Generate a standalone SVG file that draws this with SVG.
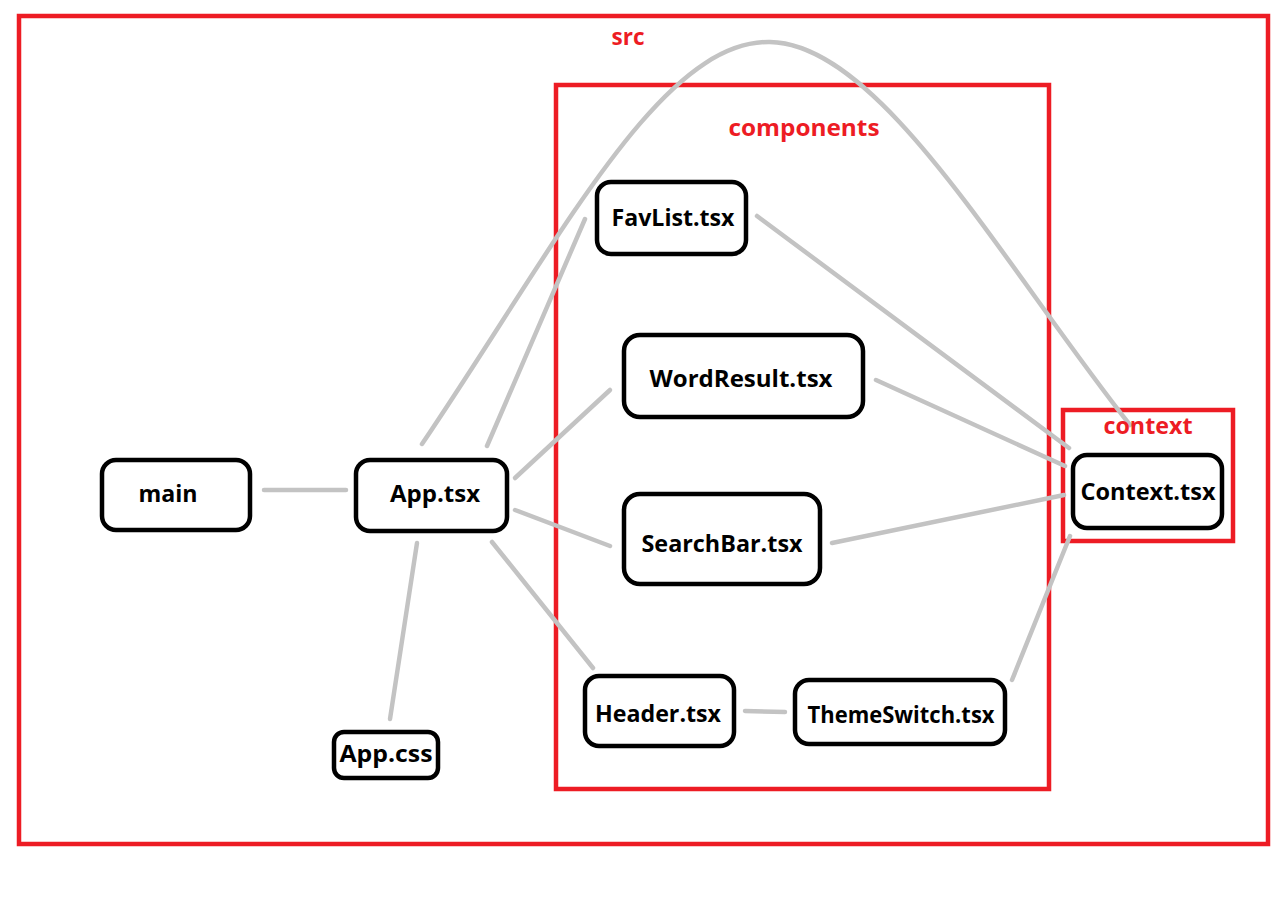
<svg xmlns="http://www.w3.org/2000/svg" width="1287" height="921" viewBox="0 0 1287 921">
<defs>
<style>
.grp{fill:none;stroke:#ED1C24;stroke-width:4.5}
.glabel{fill:#ED1C24;font-family:"Open Sans","Liberation Sans",Arial,sans-serif;font-weight:bold;font-size:24px;text-anchor:middle}
.node rect{fill:#fff;stroke:#000;stroke-width:4.5}
.node text{fill:#000;font-family:"Open Sans","Liberation Sans",Arial,sans-serif;font-weight:bold;font-size:24px;text-anchor:middle}
.edge{fill:none;stroke:#C3C3C3;stroke-width:4.5;stroke-linecap:round}
</style>
</defs>
<rect width="1287" height="921" fill="#fff"/>
<g id="group-src">
<rect class="grp" x="19" y="16" width="1249" height="828"/>
<text class="glabel" x="628" y="45" textLength="33" lengthAdjust="spacingAndGlyphs">src</text>
</g>
<g id="group-components">
<rect class="grp" x="556" y="85" width="493" height="704"/>
<text class="glabel" x="804" y="136" textLength="151" lengthAdjust="spacingAndGlyphs">components</text>
</g>
<g id="group-context">
<rect class="grp" x="1063" y="410" width="170" height="131"/>
</g>
<g id="connectors">
<line class="edge" x1="264" y1="490" x2="346" y2="490"/>
<path class="edge" d="M422,444 C560,240 660,40 770,42 C880,44 1000,260 1130,425"/>
<line class="edge" x1="487" y1="446" x2="585" y2="219"/>
<line class="edge" x1="515" y1="478" x2="610" y2="390"/>
<line class="edge" x1="515" y1="510" x2="610" y2="546"/>
<line class="edge" x1="492" y1="542" x2="593" y2="668"/>
<line class="edge" x1="417" y1="543" x2="390" y2="719"/>
<line class="edge" x1="757" y1="216" x2="1069" y2="448"/>
<line class="edge" x1="876" y1="380" x2="1065" y2="466"/>
<line class="edge" x1="832" y1="543" x2="1064" y2="495"/>
<line class="edge" x1="745" y1="711" x2="785" y2="712"/>
<line class="edge" x1="1012" y1="680" x2="1070" y2="536"/>
</g>
<text class="glabel" x="1148" y="434" textLength="89" lengthAdjust="spacingAndGlyphs">context</text>
<g id="node-main" class="node">
<rect x="102" y="460" width="148" height="70" rx="14"/>
<text x="168" y="502" textLength="59" lengthAdjust="spacingAndGlyphs">main</text>
</g>
<g id="node-app" class="node">
<rect x="356" y="460" width="151" height="71" rx="14"/>
<text x="435" y="502" textLength="90" lengthAdjust="spacingAndGlyphs">App.tsx</text>
</g>
<g id="node-favlist" class="node">
<rect x="597" y="182" width="149" height="72" rx="14"/>
<text x="673" y="226" textLength="123" lengthAdjust="spacingAndGlyphs">FavList.tsx</text>
</g>
<g id="node-wordresult" class="node">
<rect x="624" y="335" width="239" height="82" rx="16"/>
<text x="741" y="387" textLength="183" lengthAdjust="spacingAndGlyphs">WordResult.tsx</text>
</g>
<g id="node-searchbar" class="node">
<rect x="624" y="494" width="196" height="90" rx="16"/>
<text x="722" y="552" textLength="161" lengthAdjust="spacingAndGlyphs">SearchBar.tsx</text>
</g>
<g id="node-header" class="node">
<rect x="585" y="676" width="149" height="70" rx="14"/>
<text x="658" y="722" textLength="126" lengthAdjust="spacingAndGlyphs">Header.tsx</text>
</g>
<g id="node-themeswitch" class="node">
<rect x="795" y="680" width="210" height="64" rx="14"/>
<text x="901" y="723" textLength="187" lengthAdjust="spacingAndGlyphs">ThemeSwitch.tsx</text>
</g>
<g id="node-context" class="node">
<rect x="1073" y="455" width="149" height="73" rx="14"/>
<text x="1148" y="500" textLength="135" lengthAdjust="spacingAndGlyphs">Context.tsx</text>
</g>
<g id="node-appcss" class="node">
<rect x="334" y="732" width="104" height="46" rx="10"/>
<text x="386" y="762" textLength="93" lengthAdjust="spacingAndGlyphs">App.css</text>
</g>
</svg>
